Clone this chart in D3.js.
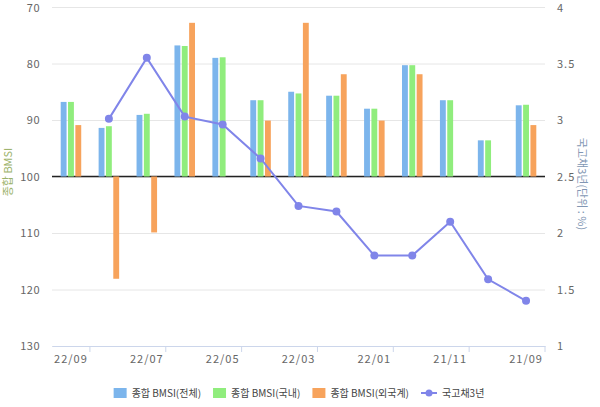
<!DOCTYPE html>
<html>
<head>
<meta charset="utf-8">
<script src="https://cdn.jsdelivr.net/npm/d3@7"></script>
<style>
  body { margin: 0; background: #fff; }
  text { font-family: "Noto Sans CJK KR", "Noto Sans", sans-serif; }
</style>
</head>
<body>
<div class="chart"></div>
<script>

// categories run newest -> oldest, like the original
var months = ["22/09","22/08","22/07","22/06","22/05","22/04","22/03","22/02","22/01","21/12","21/11","21/10","21/09"];
var seriesNames = ["종합 BMSI(전체)", "종합 BMSI(국내)", "종합 BMSI(외국계)"];
var bmsiTotal    = [86.8, 91.4, 89.1, 76.8, 79.0, 86.5, 85.0, 85.7, 88.0, 80.3, 86.5, 93.6, 87.4];
var bmsiDomestic = [86.8, 91.1, 88.9, 76.9, 78.9, 86.5, 85.3, 85.7, 88.0, 80.3, 86.5, 93.6, 87.3];
var bmsiForeign  = [90.9, 118.1, 109.9, 72.8, null, 90.1, 72.8, 81.9, 90.1, 81.9, null, null, 90.9];
var bond3y       = [null, 3.01, 3.55, 3.03, 2.96, 2.66, 2.24, 2.19, 1.80, 1.80, 2.10, 1.59, 1.40];
var leftTicks  = [70, 80, 90, 100, 110, 120, 130];
var rightTicks = [1, 1.5, 2, 2.5, 3, 3.5, 4];
var lineName = "국고채3년";

var width = 600, height = 407;
var mLeft = 52, mRight = 545, mTop = 7, mBottom = 346;
var colors = ["#7cb5ec", "#90ed7d", "#f7a35c"];
var lineColor = "#8085e9";

var svg = d3.select(".chart").append("svg")
    .attr("width", width)
    .attr("height", height);

var x0 = d3.scaleBand()
    .domain(months)
    .range([mLeft, mRight])
    .padding(0);

var bw = x0.bandwidth();
var x1 = d3.scaleBand()
    .domain(d3.range(3))
    .range([bw * 0.21, bw * 0.79])
    .paddingInner(0.2)
    .paddingOuter(0.1);

var y = d3.scaleLinear().domain([70, 130]).range([mTop, mBottom]);
var y2 = d3.scaleLinear().domain([1, 4]).range([mBottom, mTop]);

// grid + left labels
var gLeft = svg.append("g")
    .attr("transform", "translate(" + mLeft + ",0)")
    .call(d3.axisLeft(y).tickValues(leftTicks).tickSize(-(mRight - mLeft)).tickPadding(12));
gLeft.select(".domain").remove();
gLeft.selectAll("line").attr("stroke", "#e6e6e6");
gLeft.selectAll("text").attr("fill", "#666").attr("font-size", "11px")
    .style("letter-spacing", "0.5px");

var gRight = svg.append("g")
    .attr("transform", "translate(" + mRight + ",0)")
    .call(d3.axisRight(y2).tickValues(rightTicks).tickSize(0).tickPadding(12)
      .tickFormat(function(d){ return d; }));
gRight.select(".domain").remove();
gRight.selectAll("text").attr("fill", "#666").attr("font-size", "11px")
    .style("letter-spacing", "1px");

// top labels sit right at the edge; nudge them down a touch
gLeft.selectAll(".tick text").filter(function(d){ return d == 70; }).attr("dy", "0.45em");
gRight.selectAll(".tick text").filter(function(d){ return d == 4; }).attr("dy", "0.45em");

// x axis
var gx = svg.append("g")
    .attr("transform", "translate(0," + mBottom + ")")
    .call(d3.axisBottom(x0)
      .tickValues(months.filter(function(d, i){ return i % 2 == 0; }))
      .tickSize(0).tickPadding(9));
gx.select(".domain").attr("stroke", "#ccd6eb");
gx.selectAll("text").attr("fill", "#666").attr("font-size", "11px")
    .style("letter-spacing", "1px");

// tick marks sit on the boundary after every second month
svg.append("g").selectAll("line")
    .data(months.filter(function(d, i){ return i % 2 == 0; }))
    .enter().append("line")
    .attr("x1", function(d){ return x0(d) + bw; })
    .attr("x2", function(d){ return x0(d) + bw; })
    .attr("y1", mBottom)
    .attr("y2", mBottom + 6)
    .attr("stroke", "#ccd6eb");

// plot line at 100
svg.append("line")
    .attr("x1", mLeft).attr("x2", mRight)
    .attr("y1", y(100)).attr("y2", y(100))
    .attr("stroke", "#222")
    .attr("stroke-width", 1.5);

// bars
var allBars = [bmsiTotal, bmsiDomestic, bmsiForeign];
allBars.forEach(function(values, s){
  var pts = values.map(function(v, i){ return {m: months[i], v: v}; })
                  .filter(function(p){ return p.v != null; });
  svg.append("g").selectAll("rect")
      .data(pts)
      .enter().append("rect")
      .attr("x", function(d){ return x0(d.m) + x1(s); })
      .attr("y", function(d){ return Math.min(y(d.v), y(100)); })
      .attr("width", x1.bandwidth())
      .attr("height", function(d){ return Math.abs(y(d.v) - y(100)); })
      .attr("fill", colors[s]);
});

// bond line
var linePts = bond3y.map(function(v, i){ return {m: months[i], v: v}; });
var line = d3.line()
    .defined(function(d){ return d.v != null; })
    .x(function(d){ return x0(d.m) + bw / 2; })
    .y(function(d){ return y2(d.v); });

svg.append("path")
    .datum(linePts)
    .attr("d", line)
    .attr("fill", "none")
    .attr("stroke", lineColor)
    .attr("stroke-width", 2);

svg.append("g").selectAll("circle")
    .data(linePts.filter(function(d){ return d.v != null; }))
    .enter().append("circle")
    .attr("cx", function(d){ return x0(d.m) + bw / 2; })
    .attr("cy", function(d){ return y2(d.v); })
    .attr("r", 4)
    .attr("fill", lineColor);

// axis titles
svg.append("text")
    .text("종합 BMSI")
    .attr("transform", "translate(12,172) rotate(-90)")
    .attr("text-anchor", "middle")
    .attr("fill", "#9bb26a")
    .attr("font-size", "11px");

svg.append("text")
    .text("국고채3년(단위 : %)")
    .attr("transform", "translate(578,184) rotate(90)")
    .attr("text-anchor", "middle")
    .attr("fill", "#8196b3")
    .attr("font-size", "11px");

// legend, laid out from measured text widths and centred
var legend = svg.append("g");
var items = seriesNames.map(function(n, i){ return {name: n, color: colors[i], type: "rect"}; });
items.push({name: lineName, color: lineColor, type: "line"});
var gap = 12;
var cx = 0;
items.forEach(function(it){
  var g = legend.append("g").attr("transform", "translate(" + cx + ",0)");
  var symW = it.type == "rect" ? 13 : 16;
  if (it.type == "rect") {
    g.append("rect").attr("x", 0).attr("y", -5).attr("width", 13).attr("height", 10).attr("fill", it.color);
  } else {
    g.append("line").attr("x1", 0).attr("x2", 16).attr("y1", 0).attr("y2", 0)
        .attr("stroke", it.color).attr("stroke-width", 2);
    g.append("circle").attr("cx", 8).attr("cy", 0).attr("r", 3.5).attr("fill", it.color);
  }
  var t = g.append("text")
      .text(it.name)
      .attr("x", symW + 5).attr("y", 3.5)
      .attr("fill", "#444")
      .attr("font-size", "10px");
  cx += symW + 5 + t.node().getComputedTextLength() + gap;
});
var total = cx - gap;
legend.attr("transform", "translate(" + (299 - total / 2) + ",393)");

</script>
</body>
</html>
